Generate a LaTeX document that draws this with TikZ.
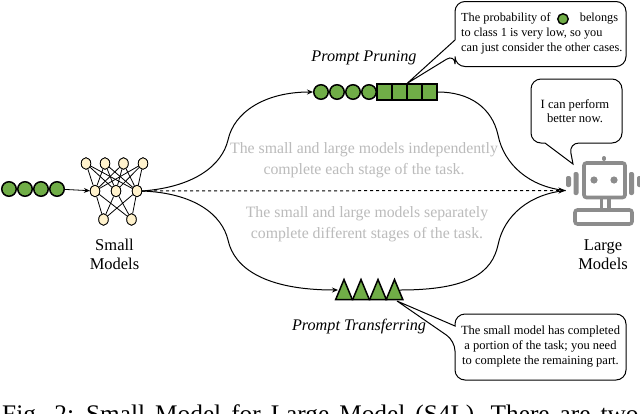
\documentclass[tikz,border=0pt]{standalone}
\usepackage{fontspec}
\setmainfont{Liberation Serif}
\usetikzlibrary{arrows.meta,shapes.geometric}
\definecolor{gfill}{HTML}{70AD47}
\definecolor{cream}{HTML}{FFF2CC}
\definecolor{robotgray}{HTML}{8C8C8C}
\definecolor{fadetext}{HTML}{BBBBBB}
\tikzset{
  x=1pt,y=-1pt,
  seqdot/.style={circle,draw=black,line width=1.5pt,fill=gfill,minimum size=14.5pt,inner sep=0pt},
  seqsq/.style={rectangle,draw=black,line width=1.5pt,fill=gfill,minimum width=15pt,minimum height=16pt,inner sep=0pt},
  neuron/.style={ellipse,draw=black,line width=.8pt,fill=cream,minimum width=9.5pt,minimum height=11.5pt,inner sep=0pt},
  wire/.style={black,line width=.8pt},
  flow/.style={black,line width=1pt},
  tri/.style={draw=black,line width=1.5pt,fill=gfill,line join=miter},
  bubble/.style={draw=black,line width=1pt,fill=white,rounded corners=10pt},
  lbl/.style={inner sep=0pt,font=\fontsize{16.5}{19.5}\selectfont,align=center},
  ilbl/.style={inner sep=0pt,font=\fontsize{16.2}{18}\selectfont\itshape},
  faded/.style={inner sep=0pt,text=fadetext,align=center,font=\fontsize{15.8}{21}\selectfont},
  btext/.style={inner sep=0pt,align=center},
  robot/.style={draw=robotgray,line width=3.6pt,rounded corners=2.5pt}
}
\begin{document}
\begin{tikzpicture}
\useasboundingbox (0,0) rectangle (640,413);
\clip (0,0) rectangle (640,413);
\fill[white] (0,0) rectangle (640,413);

% faded text
\node[faded] (fa) at (364,160) {The small and large models independently\\complete each stage of the task.};
\node[faded] (fb) at (367,224) {The small and large models separately\\complete different stages of the task.};

% input sequence
\foreach \n/\x in {1/9,2/25,3/41,4/57}{\node[seqdot] (in\n) at (\x,189) {};}

% network
\foreach \n/\x in {1/86,2/105,3/123.5,4/143}{\node[neuron] (t\n) at (\x,163.5) {};}
\foreach \n/\x in {1/95,2/116,3/137}{\node[neuron] (m\n) at (\x,191) {};}
\foreach \n/\x in {1/103.5,2/131.5}{\node[neuron] (b\n) at (\x,219.5) {};}
\foreach \i in {1,2,3,4}{\foreach \j in {1,2,3}{\draw[wire] (t\i) -- (m\j);}}
\foreach \i in {1,2,3}{\foreach \j in {1,2}{\draw[wire] (m\i) -- (b\j);}}
\foreach \n/\x in {1/86,2/105,3/123.5,4/143}{\node[neuron] at (\x,163.5) {};}
\foreach \n/\x in {1/95,2/116,3/137}{\node[neuron] at (\x,191) {};}
\foreach \n/\x in {1/103.5,2/131.5}{\node[neuron] at (\x,219.5) {};}
\draw[wire,-{Stealth[length=6pt,width=5pt]}] (in4) -- (m1);

\node[lbl] (small) at (114.5,254.5) {Small\\Models};
\node[lbl] (large) at (603,254.5) {Large\\Models};

% target point
\coordinate (tgt) at (565.5,190.5);

% upper sequence
\foreach \n/\x in {1/321,2/337,3/353,4/369}{\node[seqdot] (p\n) at (\x,92) {};}
\foreach \n/\x in {1/384.5,2/399.5,3/414.5,4/429.5}{\node[seqsq] (s\n) at (\x,92) {};}

% lower sequence
\foreach \n/\x in {1/344,2/361,3/378,4/394.5}{
  \coordinate (ta\n) at (\x,279.5);
  \draw[tri] (\x-8.3,299.5) -- (ta\n) -- (\x+8.3,299.5) -- cycle;
}
\coordinate (tl) at (338,290);
\coordinate (tr) at (400,290);

% flows
\draw[flow,-{Stealth[length=6pt,width=5pt]}] (m3.east) .. controls (195,187) and (222,165) .. (228,140) .. controls (234,112) and (265,92) .. (p1.west);
\draw[flow,-{Stealth[length=6pt,width=5pt]}] (m3.east) .. controls (195,193) and (222,215) .. (228,240) .. controls (234,268) and (265,290) .. (tl);
\draw[flow] (s4.east) .. controls (470,92) and (492,108) .. (498,135) .. controls (504,165) and (530,187) .. (tgt);
\draw[flow] (tr) .. controls (470,290) and (492,272) .. (498,245) .. controls (504,215) and (530,194) .. (tgt);
\draw[flow,dashed,-{Stealth[length=7pt,width=6pt]}] (m3.east) -- (tgt);

\node[ilbl] (pp) at (364,58) {Prompt Pruning};
\node[ilbl] (pt) at (359,327) {Prompt Transferring};

% bubble top
\coordinate (tip1) at (407,83.5);
\draw[bubble] (455,40) -- (455,1.5) -- (626,1.5) -- (626,66.5) -- (455,66.5) -- (455,54) [sharp corners] -- (tip1) -- cycle;
\node[btext,align=left,anchor=west,font=\fontsize{12.3}{15}\selectfont] (bt1) at (461,33) {The probability of \hspace{23pt} belongs\\to class 1 is very low, so you\\can just consider the other cases.};
\node[seqdot,minimum size=10.5pt,line width=1.4pt] (dot) at (563,19) {};

% bubble middle
\coordinate (tip2) at (573,164);
\draw[bubble] (545,143) -- (531,143) -- (531,79) -- (622,79) -- (622,143) -- (569,143) [sharp corners] -- (tip2) -- cycle;
\node[btext,font=\fontsize{12.6}{14.5}\selectfont] (bt2) at (575,111) {I can perform\\better now.};

% bubble bottom
\coordinate (tip3) at (397,301);
\draw[bubble] (455,326) -- (455,314) -- (626,314) -- (626,380) -- (455,380) -- (455,341) [sharp corners] -- (tip3) -- cycle;
\node[btext,font=\fontsize{12.5}{15}\selectfont] (bt3) at (540.5,347) {The small model has completed\\a portion of the task; you need\\to complete the remaining part.};

% robot
\draw[robot] (584,163) rectangle (625,197.5);
\draw[robot] (575,210) rectangle (632,224);
\draw[robotgray,line width=3.6pt] (601.5,198) -- (601.5,210) (609,198) -- (609,210);
\draw[robotgray,line width=4pt,line cap=round] (604,159) -- (604,158);
\fill[robotgray] (594,180) circle (3.6) (614,180) circle (3.6);
\fill[robotgray,rounded corners=2pt] (566,176) rectangle (571,187);
\fill[robotgray,rounded corners=2pt] (573.5,172) rectangle (578.5,195);
\fill[robotgray,rounded corners=2pt] (629,172) rectangle (634,195);
\fill[robotgray,rounded corners=2pt] (637,176) rectangle (642,187);

% caption
\node[anchor=base west,inner sep=0pt,font=\fontsize{25.3}{28}\selectfont] (cap) at (2,422.7) {\spaceskip=10pt Fig. 2: Small Model for Large Model (S4L). There are two};
\end{tikzpicture}
\end{document}
